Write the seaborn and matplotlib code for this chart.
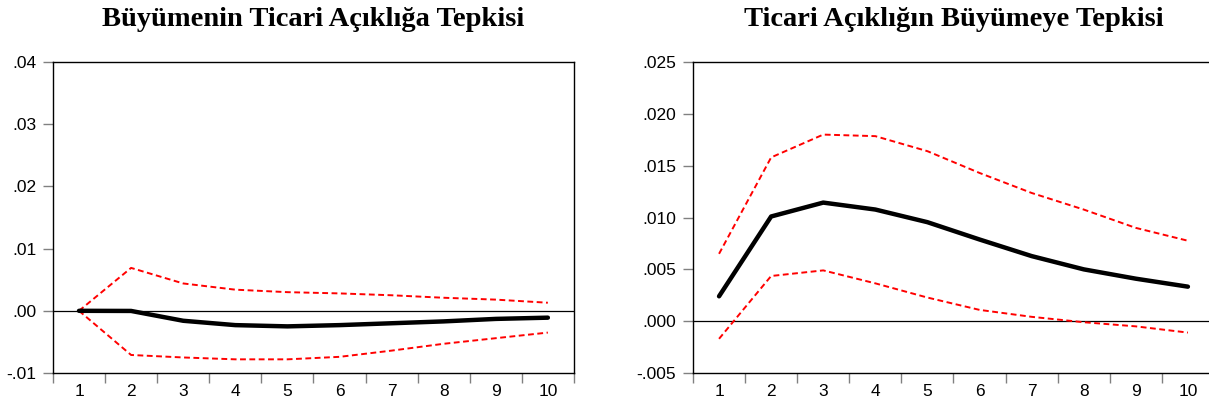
import matplotlib
matplotlib.use("Agg")
import matplotlib.pyplot as plt
import numpy as np
import pandas as pd
import seaborn as sns

# donnees (fonctions de reponse impulsionnelle)
periods = list(range(1, 11))

growth_resp = [0.0, -0.00002, -0.0016, -0.0023, -0.0025, -0.0023, -0.0020, -0.0017, -0.0013, -0.0011]
growth_upper = [0.0, 0.0069, 0.0044, 0.0034, 0.0030, 0.0028, 0.0025, 0.0021, 0.0018, 0.0013]
growth_lower = [0.0, -0.0071, -0.0075, -0.0078, -0.0078, -0.0074, -0.0064, -0.0053, -0.0044, -0.0035]

trade_resp = [0.0024, 0.0101, 0.01144, 0.01077, 0.00955, 0.00788, 0.00628, 0.0050, 0.0041, 0.00333]
trade_upper = [0.0065, 0.0158, 0.0180, 0.01785, 0.0164, 0.0143, 0.01237, 0.01077, 0.0090, 0.00776]
trade_lower = [-0.0017, 0.00436, 0.0049, 0.00365, 0.00228, 0.00109, 0.00042, -0.0001, -0.0005, -0.0011]

titles = ["Büyümenin Ticari Açıklığa Tepkisi", "Ticari Açıklığın Büyümeye Tepkisi"]

left_yticks = [-0.01, 0.0, 0.01, 0.02, 0.03, 0.04]
left_ylabels = ["-.01", ".00", ".01", ".02", ".03", ".04"]
right_yticks = [-0.005, 0.0, 0.005, 0.010, 0.015, 0.020, 0.025]
right_ylabels = ["-.005", ".000", ".005", ".010", ".015", ".020", ".025"]

sns.set_theme(style="white")
plt.rcParams["font.family"] = ["Liberation Sans", "DejaVu Sans"]

fig = plt.figure(figsize=(12.09, 4.07), dpi=100)
# le panneau de droite deborde un peu de l'image, comme dans l'original
ax1 = fig.add_axes([0.0438, 0.0835, 0.4309, 0.7641])
ax2 = fig.add_axes([0.5732, 0.0835, 0.4309, 0.7641])

panels = [
    (ax1, growth_resp, growth_upper, growth_lower, left_yticks, left_ylabels, titles[0]),
    (ax2, trade_resp, trade_upper, trade_lower, right_yticks, right_ylabels, titles[1]),
]

for ax, resp, upper, lower, yticks, ylabels, title in panels:
    df = pd.DataFrame({"period": periods, "resp": resp, "upper": upper, "lower": lower})

    ax.axhline(0, color="black", lw=0.9, zorder=1)
    sns.lineplot(data=df, x="period", y="upper", ax=ax, color="red", lw=1.4,
                 zorder=2).lines[-1].set_dashes((3, 1.8))
    sns.lineplot(data=df, x="period", y="lower", ax=ax, color="red", lw=1.4,
                 zorder=2).lines[-1].set_dashes((3, 1.8))
    sns.lineplot(data=df, x="period", y="resp", ax=ax, color="black", lw=3.2,
                 zorder=3)

    ax.set_xlim(0.5, 10.5)
    ax.set_ylim(yticks[0], yticks[-1])
    ax.set_xlabel("")
    ax.set_ylabel("")

    # ticks aux frontieres, labels au centre
    ax.set_xticks(np.arange(0.5, 11, 1))
    ax.set_xticklabels([])
    ax.set_xticks(periods, minor=True)
    ax.set_xticklabels([str(p) for p in periods], minor=True)
    ax.tick_params(axis="x", which="major", direction="out", length=7, width=1,
                   color="#808080", bottom=True)
    ax.tick_params(axis="x", which="minor", length=0, pad=8, labelsize=12.5,
                   labelcolor="black")

    ax.set_yticks(yticks)
    ax.set_yticklabels(ylabels)
    ax.tick_params(axis="y", direction="out", length=7, width=1, color="#808080",
                   left=True, pad=5, labelsize=12.5, labelcolor="black")

    for sp in ax.spines.values():
        sp.set_visible(True)
        sp.set_color("black")
        sp.set_linewidth(1)

    ax.set_title(title, fontsize=20.5, fontweight="bold", family="Liberation Serif",
                 color="black", pad=26)

fig.savefig("out.png", dpi=100)
